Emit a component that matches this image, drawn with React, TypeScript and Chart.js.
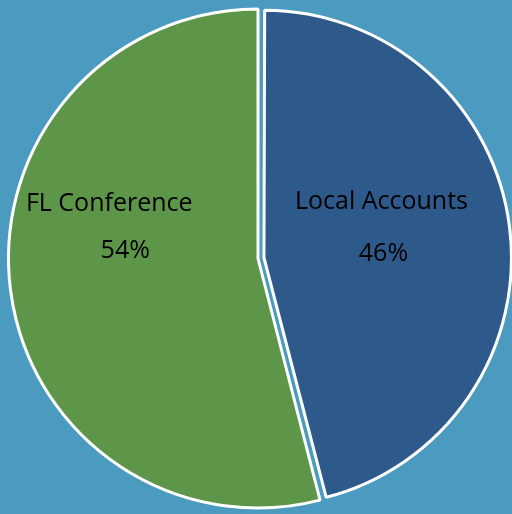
import React, { useEffect, useRef } from "react";
import { Chart, registerables } from "chart.js";

Chart.register(...registerables);

const categories = ["Local Accounts", "FL Conference"];
const values = [46, 54];
const percentLabels = ["46%", "54%"];
const sliceColors = ["#2e598b", "#5e9649"];
const sliceOffsets = [24, 0];
const BG = "#4b9bc0";

// text placement relative to each slice's label anchor (arc tooltip position)
const labelShift = [
  { nameDx: -9, nameDy: -33, pctDx: -7, pctDy: 19 },
  { nameDx: -25, nameDy: -63, pctDx: -9, pctDy: -16 },
];

// keep the exploded slice the same size as the others
const keepRadiusPlugin = {
  id: "keepRadius",
  afterUpdate(chart: any) {
    const meta = chart.getDatasetMeta(0);
    meta.data.forEach((arc: any, i: number) => {
      const off = (sliceOffsets[i] || 0) / 4;
      if (!off) return;
      const fix = 1 - Math.sin(Math.min(Math.PI, arc.circumference || 0));
      arc.outerRadius = arc.outerRadius - off * fix - 2;
    });
  },
};

const labelPlugin = {
  id: "sliceLabels",
  afterDatasetsDraw(chart: any) {
    const ctx = chart.ctx;
    const meta = chart.getDatasetMeta(0);
    ctx.save();
    ctx.fillStyle = "#000000";
    ctx.font = "25px 'Open Sans', sans-serif";
    ctx.textAlign = "center";
    ctx.textBaseline = "alphabetic";
    meta.data.forEach((arc: any, i: number) => {
      const p = arc.tooltipPosition(false);
      const s = labelShift[i];
      ctx.fillText(categories[i], p.x + s.nameDx, p.y + s.nameDy);
      ctx.fillText(percentLabels[i], p.x + s.pctDx, p.y + s.pctDy);
    });
    ctx.restore();
  },
};

export default function App() {
  const ref = useRef<HTMLCanvasElement>(null);
  useEffect(() => {
    if (!ref.current) return;
    const chart = new Chart(ref.current, {
      type: "pie",
      data: {
        labels: categories,
        datasets: [
          {
            data: values,
            backgroundColor: sliceColors,
            borderColor: "#ffffff",
            borderWidth: 3,
            offset: sliceOffsets,
          },
        ],
      },
      options: {
        responsive: false,
        animation: false,
        radius: 249.5,
        layout: { padding: { left: 4, right: 0, top: 3, bottom: 0 } },
        plugins: {
          legend: { display: false },
          tooltip: { enabled: false },
        },
      },
      plugins: [keepRadiusPlugin, labelPlugin],
    });
    return () => chart.destroy();
  }, []);
  return (
    <div
      style={{
        position: "fixed",
        left: 0,
        top: 0,
        width: 512,
        height: 514,
        background: BG,
      }}
    >
      <canvas ref={ref} width={512} height={514} style={{ display: "block" }} />
    </div>
  );
}
